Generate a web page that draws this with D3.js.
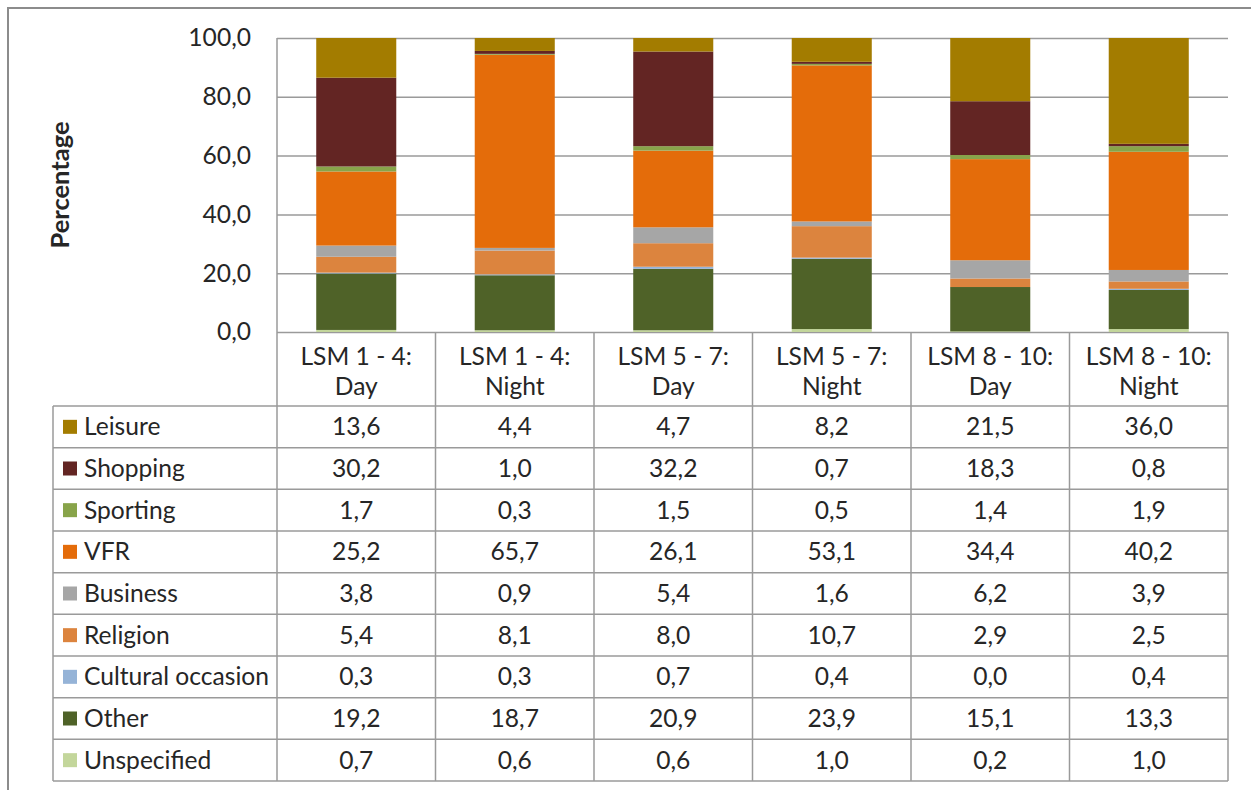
<!DOCTYPE html>
<html>
<head>
<meta charset="utf-8">
<script src="https://cdn.jsdelivr.net/npm/d3@7/dist/d3.min.js"></script>
<style>
  html, body { margin: 0; padding: 0; background: #fff; }
  svg { display: block; }
  text { font-family: Lato, "Noto Sans", sans-serif; fill: #262626; }
</style>
</head>
<body>
<svg id="chart" width="1251" height="790"></svg>
<script>
// Categories (two header lines each)
const categories = ["LSM 1 - 4: Day", "LSM 1 - 4: Night", "LSM 5 - 7: Day",
                    "LSM 5 - 7: Night", "LSM 8 - 10: Day", "LSM 8 - 10: Night"];
const categoryLines = [["LSM 1 - 4:", "Day"], ["LSM 1 - 4:", "Night"], ["LSM 5 - 7:", "Day"],
                       ["LSM 5 - 7:", "Night"], ["LSM 8 - 10:", "Day"], ["LSM 8 - 10:", "Night"]];

// Series as listed in the data table (top to bottom)
const seriesNames = ["Leisure", "Shopping", "Sporting", "VFR", "Business", "Religion",
                     "Cultural occasion", "Other", "Unspecified"];
const seriesColors = ["#a37c00", "#632523", "#88a44a", "#e46c0a", "#a6a6a6", "#dc843e",
                      "#95b3d7", "#4f6228", "#c3d69b"];

const leisure      = [13.6, 4.4, 4.7, 8.2, 21.5, 36.0];
const shopping     = [30.2, 1.0, 32.2, 0.7, 18.3, 0.8];
const sporting     = [1.7, 0.3, 1.5, 0.5, 1.4, 1.9];
const vfr          = [25.2, 65.7, 26.1, 53.1, 34.4, 40.2];
const business     = [3.8, 0.9, 5.4, 1.6, 6.2, 3.9];
const religion     = [5.4, 8.1, 8.0, 10.7, 2.9, 2.5];
const cultural     = [0.3, 0.3, 0.7, 0.4, 0.0, 0.4];
const other        = [19.2, 18.7, 20.9, 23.9, 15.1, 13.3];
const unspecified  = [0.7, 0.6, 0.6, 1.0, 0.2, 1.0];

const seriesValues = [leisure, shopping, sporting, vfr, business, religion, cultural, other, unspecified];

const yTicks = [0, 20, 40, 60, 80, 100];
const yLabel = "Percentage";

// ---- layout ----
const plotLeft = 277, plotRight = 1228, plotTop = 38, plotBottom = 332;
const headerBottom = 406, tableBottom = 781, legendLeft = 53;
const gridColor = "#9a9a9a";
const fontSize = 24.6;

const svg = d3.select("#chart");
const fmt = v => v.toFixed(1).replace(".", ",");

// outer chart frame
svg.append("rect")
  .attr("x", 8).attr("y", 8).attr("width", 1260).attr("height", 800)
  .attr("fill", "none").attr("stroke", "#8c8c8c").attr("stroke-width", 2);

const x = d3.scaleBand().domain(categories).range([plotLeft, plotRight]).padding(0);
const y = d3.scaleLinear().domain([0, 100]).range([plotBottom, plotTop]);

// gridlines + y tick labels
const yAxis = d3.axisLeft(y).tickValues(yTicks).tickFormat(fmt)
  .tickSizeInner(-(plotRight - plotLeft)).tickSizeOuter(0).tickPadding(26);
const gy = svg.append("g").attr("transform", `translate(${plotLeft},0)`).call(yAxis);
gy.select(".domain").remove();
gy.selectAll(".tick line").attr("stroke", gridColor).attr("stroke-width", 1.5);
gy.selectAll(".tick text").attr("font-size", fontSize).attr("fill", "#262626")
  .style("font-family", "Lato, 'Noto Sans', sans-serif");

// y axis title
svg.append("text")
  .attr("transform", `translate(69,185) rotate(-90)`)
  .attr("text-anchor", "middle").attr("font-weight", "bold").attr("font-size", 25.5)
  .text(yLabel);

// stacked bars (bottom series first)
const rows = categories.map((c, i) => {
  const r = { category: c };
  seriesNames.forEach((s, k) => { r[s] = seriesValues[k][i]; });
  return r;
});
const stackKeys = seriesNames.slice().reverse();
const stacked = d3.stack().keys(stackKeys)(rows);
const color = d3.scaleOrdinal().domain(seriesNames).range(seriesColors);

svg.append("clipPath").attr("id", "plotClip")
  .append("rect").attr("x", plotLeft).attr("y", plotTop)
  .attr("width", plotRight - plotLeft).attr("height", plotBottom - plotTop);

const barW = x.bandwidth() * 0.505;
svg.append("g").attr("clip-path", "url(#plotClip)")
  .selectAll("g").data(stacked).join("g")
  .attr("fill", d => color(d.key))
  .selectAll("rect").data(d => d).join("rect")
  .attr("x", d => x(d.data.category) + (x.bandwidth() - barW) / 2)
  .attr("width", barW)
  .attr("y", d => y(d[1]))
  .attr("height", d => Math.max(0, y(d[0]) - y(d[1])));

// ---- data table ----
const rowH = (tableBottom - headerBottom) / seriesNames.length;
const tbl = svg.append("g").attr("stroke", gridColor).attr("stroke-width", 1.5);

// vertical lines: left axis line, category separators, right edge
tbl.append("line").attr("x1", plotLeft).attr("x2", plotLeft).attr("y1", plotTop).attr("y2", tableBottom);
categories.forEach(c => {
  const xr = x(c) + x.bandwidth();
  tbl.append("line").attr("x1", xr).attr("x2", xr).attr("y1", plotBottom).attr("y2", tableBottom);
});
tbl.append("line").attr("x1", legendLeft).attr("x2", legendLeft).attr("y1", headerBottom).attr("y2", tableBottom);
// horizontal lines
d3.range(seriesNames.length + 1).forEach(i => {
  const yy = headerBottom + i * rowH;
  tbl.append("line").attr("x1", legendLeft).attr("x2", plotRight).attr("y1", yy).attr("y2", yy);
});

// header labels
categories.forEach((c, i) => {
  const cx = x(c) + x.bandwidth() / 2;
  categoryLines[i].forEach((ln, j) => {
    svg.append("text").attr("x", cx).attr("y", 355 + j * 30)
      .attr("text-anchor", "middle").attr("dominant-baseline", "central")
      .attr("font-size", fontSize).text(ln);
  });
});

// table rows
seriesNames.forEach((s, k) => {
  const cy = headerBottom + (k + 0.5) * rowH;
  svg.append("rect").attr("x", 63).attr("y", cy - 7).attr("width", 14).attr("height", 14)
    .attr("fill", color(s));
  svg.append("text").attr("x", 84).attr("y", cy - 1).attr("dominant-baseline", "central")
    .attr("font-size", fontSize).text(s);
  categories.forEach((c, i) => {
    svg.append("text").attr("x", x(c) + x.bandwidth() / 2).attr("y", cy - 1)
      .attr("text-anchor", "middle").attr("dominant-baseline", "central")
      .attr("font-size", fontSize).text(fmt(seriesValues[k][i]));
  });
});
</script>
</body>
</html>
